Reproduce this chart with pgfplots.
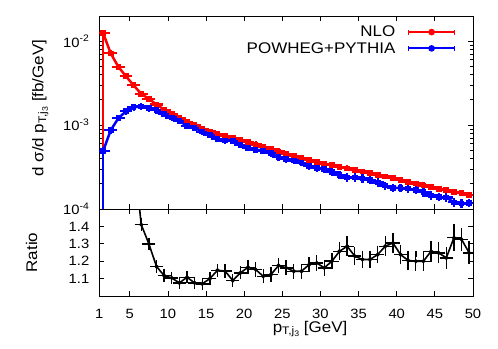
\documentclass[border=0pt]{standalone}
\usepackage{fontspec}
\setmainfont{Liberation Sans}[FakeStretch=1.1]
\usepackage{pgfplots}
\usepackage{pgfplotstable}
\pgfplotsset{compat=1.18}

% NLO and POWHEG+PYTHIA spectra (x = bin centre, 1 GeV bins)
\pgfplotstableread{
x y ep em
1.5 0.0125 0.0002 0.01249
2.5 0.00717 0.00008 0.00008
3.5 0.00496 0.00005 0.00005
4.5 0.00382 0.00004 0.00004
5.5 0.00298 0.00003 0.00003
6.5 0.00236 0.00002 0.00002
7.5 0.00206 0.00002 0.00002
8.5 0.00176 0.00002 0.00002
9.5 0.00153 0.000015 0.000015
10.5 0.00136 0.000014 0.000014
11.5 0.00121 0.000012 0.000012
12.5 0.00108 0.000011 0.000011
13.5 0.00100 0.00001 0.00001
14.5 0.000895 0.000009 0.000009
15.5 0.00084 0.000008 0.000008
16.5 0.00079 0.000008 0.000008
17.5 0.00075 0.000008 0.000008
18.5 0.00071 0.000007 0.000007
19.5 0.00066 0.000007 0.000007
20.5 0.000627 0.000006 0.000006
21.5 0.000588 0.000006 0.000006
22.5 0.000552 0.000006 0.000006
23.5 0.000518 0.000005 0.000005
24.5 0.000486 0.000005 0.000005
25.5 0.000456 0.000005 0.000005
26.5 0.000432 0.000004 0.000004
27.5 0.000408 0.000004 0.000004
28.5 0.000386 0.000004 0.000004
29.5 0.000365 0.000004 0.000004
30.5 0.000347 0.000003 0.000003
31.5 0.000333 0.000003 0.000003
32.5 0.000319 0.000003 0.000003
33.5 0.000305 0.000003 0.000003
34.5 0.000293 0.000003 0.000003
35.5 0.000280 0.000003 0.000003
36.5 0.000268 0.000003 0.000003
37.5 0.000256 0.000003 0.000003
38.5 0.000244 0.000002 0.000002
39.5 0.000233 0.000002 0.000002
40.5 0.000222 0.000002 0.000002
41.5 0.000211 0.000002 0.000002
42.5 0.000201 0.000002 0.000002
43.5 0.000191 0.000002 0.000002
44.5 0.000182 0.000002 0.000002
45.5 0.000174 0.000002 0.000002
46.5 0.000167 0.000002 0.000002
47.5 0.000160 0.000002 0.000002
48.5 0.000154 0.000002 0.000002
49.5 0.000147 0.000002 0.000002
}\nlo

\pgfplotstableread{
x y ep em
1.5 0.00049 0.00002 0.00048
2.5 0.00087 0.00002 0.00002
3.5 0.00121 0.00002 0.00002
4.5 0.00146 0.00003 0.00003
5.5 0.00163 0.00003 0.00003
6.5 0.001674 0.00003 0.00003
7.5 0.001585 0.00003 0.00003
8.5 0.001504 0.00003 0.00003
9.5 0.001370 0.00003 0.00003
10.5 0.001232 0.00003 0.00003
11.5 0.001126 0.00002 0.00002
12.5 0.000975 0.00002 0.00002
13.5 0.000930 0.00002 0.00002
14.5 0.000836 0.00002 0.00002
15.5 0.000764 0.00002 0.00002
16.5 0.000688 0.00002 0.00002
17.5 0.000656 0.00002 0.00002
18.5 0.000652 0.00002 0.00002
19.5 0.000583 0.00001 0.00001
20.5 0.000538 0.00001 0.00001
21.5 0.000510 0.00001 0.00001
22.5 0.000496 0.00001 0.00001
23.5 0.000461 0.00001 0.00001
24.5 0.000414 0.00001 0.00001
25.5 0.000392 0.00001 0.00001
26.5 0.000378 0.00001 0.00001
27.5 0.000357 0.00001 0.00001
28.5 0.000327 0.00001 0.00001
29.5 0.000307 0.00001 0.00001
30.5 0.000299 0.00001 0.00001
31.5 0.000278 0.00001 0.00001
32.5 0.000254 0.00001 0.00001
33.5 0.000237 0.00001 0.00001
34.5 0.000238 0.00001 0.00001
35.5 0.000231 0.00001 0.00001
36.5 0.000221 0.00001 0.00001
37.5 0.000207 0.00001 0.00001
38.5 0.000190 0.000008 0.000008
39.5 0.000179 0.000008 0.000008
40.5 0.000179 0.000008 0.000008
41.5 0.000175 0.000008 0.000008
42.5 0.000168 0.000008 0.000008
43.5 0.000159 0.000008 0.000008
44.5 0.000145 0.000007 0.000007
45.5 0.000139 0.000007 0.000007
46.5 0.000137 0.000007 0.000007
47.5 0.000120 0.000006 0.000006
48.5 0.000116 0.000006 0.000006
49.5 0.000118 0.000006 0.000006
}\powheg

% ratio NLO / POWHEG+PYTHIA
\pgfplotstableread{
x r e
1.5 25.5 0.5
2.5 8.2 0.2
3.5 4.1 0.1
4.5 2.6 0.05
5.5 1.83 0.03
6.5 1.41 0.02
7.5 1.30 0.02
8.5 1.17 0.02
9.5 1.117 0.02
10.5 1.104 0.02
11.5 1.075 0.02
12.5 1.108 0.02
13.5 1.075 0.02
14.5 1.07 0.02
15.5 1.10 0.022
16.5 1.148 0.022
17.5 1.143 0.022
18.5 1.089 0.022
19.5 1.133 0.022
20.5 1.165 0.025
21.5 1.152 0.025
22.5 1.113 0.025
23.5 1.123 0.025
24.5 1.175 0.025
25.5 1.162 0.028
26.5 1.142 0.028
27.5 1.142 0.028
28.5 1.18 0.028
29.5 1.19 0.03
30.5 1.162 0.03
31.5 1.20 0.03
32.5 1.257 0.035
33.5 1.286 0.04
34.5 1.229 0.035
35.5 1.21 0.035
36.5 1.21 0.035
37.5 1.238 0.035
38.5 1.286 0.04
39.5 1.305 0.04
40.5 1.238 0.04
41.5 1.204 0.04
42.5 1.20 0.04
43.5 1.20 0.04
44.5 1.257 0.045
45.5 1.248 0.045
46.5 1.219 0.045
47.5 1.335 0.06
48.5 1.325 0.05
49.5 1.248 0.05
}\ratio

\pgfplotsset{
  every axis/.append style={
    scale only axis, width=373.7bp, xmin=1, xmax=50,
    xtick={1,5,10,15,20,25,30,35,40,45,50},
    axis line style={line width=0.8bp}, tick style={line width=0.8bp, black},
    major tick length=5bp, minor tick length=3bp,
    tick label style={font=\fontsize{13.5}{16}\selectfont},
    yticklabel style={xshift=-6.5bp},
    label style={font=\fontsize{15.5}{18}\selectfont},
  },
  errstyle/.style={line width=2.5bp, mark=square*, mark size=1.6bp,
    error bars/.cd, x dir=both, x fixed=0.5, y dir=both, y explicit,
    error bar style={line width=2.2bp},
    error mark options={mark size=2.6bp, line width=2.2bp}},
}

\begin{document}
\begin{tikzpicture}
\useasboundingbox (-99.3bp,-53bp) rectangle (398.7bp,296bp);

\begin{axis}[at={(0,87bp)}, height=193bp,
  ymode=log, ymin=1e-4, ymax=2e-2,
  ytick={1e-4,1e-3,1e-2},
  yticklabels={10\textsuperscript{-4},10\textsuperscript{-3},10\textsuperscript{-2}},
  xticklabels={},
  ylabel={d σ/d p\raisebox{-0.35ex}{\fontsize{11}{12}\selectfont T,j\raisebox{-0.3ex}{\fontsize{8}{9}\selectfont 3}} [fb/GeV]},
  ylabel style={at={(rel axis cs:0,0.523)}, anchor=center, yshift=59bp},
  legend style={at={(rel axis cs:0.962,0.97)}, anchor=north east,
    draw=none, fill=none, font=\fontsize{15.5}{18}\selectfont,
    row sep=0bp, nodes={inner ysep=2bp}},
  legend plot pos=right, legend cell align=right,
  legend image code/.code={
    \path (0bp,0bp);
    \draw[#1, line width=2bp] (10bp,0bp) -- (56bp,0bp);
    \draw[#1, line width=1.5bp] (10bp,-2.5bp) -- (10bp,2.5bp) (56bp,-2.5bp) -- (56bp,2.5bp);
    \fill[#1] (33bp,0bp) circle (2bp);
  },
]
\addplot[red, errstyle] table[x=x, y=y, y error plus=ep, y error minus=em]{\nlo};
\addlegendentry{NLO}
\addplot[blue, errstyle] table[x=x, y=y, y error plus=ep, y error minus=em]{\powheg};
\addlegendentry{POWHEG+PYTHIA}
\end{axis}

\begin{axis}[at={(0,0)}, height=87bp,
  ymin=1, ymax=1.5, ytick={1.1,1.2,1.3,1.4},
  /pgf/number format/assume math mode=true,
  yticklabel style={/pgf/number format/fixed, /pgf/number format/fixed zerofill, /pgf/number format/precision=1},
  xticklabel style={yshift=-9.5bp},
  ylabel={Ratio},
  ylabel style={at={(rel axis cs:0,0.5)}, anchor=center, yshift=67.8bp},
  xlabel={p\raisebox{-0.35ex}{\fontsize{11}{12}\selectfont T,j\raisebox{-0.3ex}{\fontsize{8}{9}\selectfont 3}} [GeV]},
  xlabel style={at={(rel axis cs:0.564,0)}, anchor=center, yshift=-33bp},
]
\addplot[black, line width=1.6bp, mark=*, mark size=1.2bp,
  error bars/.cd, x dir=both, x fixed=0.5, y dir=both, y explicit,
  error bar style={line width=1.4bp},
  error mark options={mark size=2.8bp, line width=1.4bp}]
  table[x=x, y=r, y error=e]{\ratio};
\end{axis}
\end{tikzpicture}
\end{document}
